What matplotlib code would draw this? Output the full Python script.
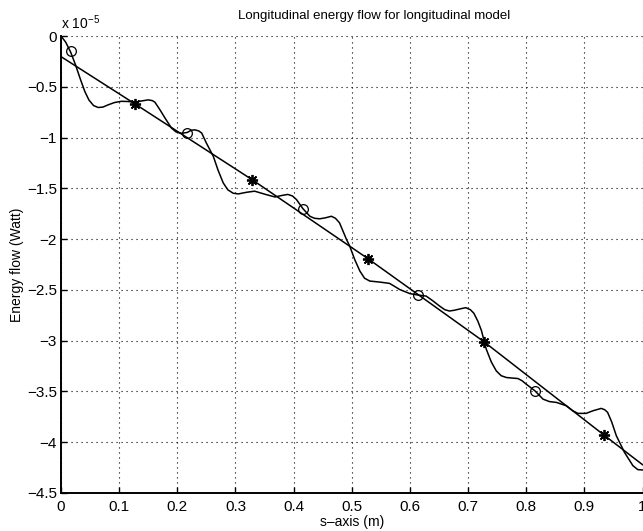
import matplotlib
matplotlib.use("Agg")
import matplotlib.pyplot as plt

plt.rcParams['font.family'] = ['Liberation Sans', 'DejaVu Sans']

# energy flow, units of 1e-5 W
wave_x = [0, 0.008, 0.0167, 0.025, 0.033, 0.041, 0.048, 0.056, 0.064, 0.072,
          0.081, 0.092, 0.104, 0.115, 0.127, 0.138, 0.150, 0.157, 0.1615, 0.170,
          0.179, 0.190, 0.198, 0.207, 0.217, 0.224, 0.230, 0.237, 0.242, 0.250,
          0.262, 0.270, 0.279, 0.287, 0.296, 0.305, 0.319, 0.333, 0.343, 0.353,
          0.368, 0.380, 0.390, 0.398, 0.405, 0.416, 0.428, 0.436, 0.445, 0.455,
          0.465, 0.472, 0.479, 0.491, 0.4966, 0.505, 0.514, 0.522, 0.531, 0.548,
          0.565, 0.575, 0.582, 0.600, 0.6146, 0.628, 0.640, 0.651, 0.660, 0.668,
          0.677, 0.6856, 0.696, 0.704, 0.710, 0.717, 0.723, 0.7314, 0.740, 0.7486,
          0.757, 0.766, 0.7858, 0.793, 0.800, 0.815, 0.829, 0.840, 0.852, 0.869,
          0.880, 0.889, 0.903, 0.915, 0.929, 0.935, 0.940, 0.947, 0.955, 0.969,
          0.9835, 0.992, 1.0]
wave_y = [0, -0.06, -0.16, -0.285, -0.42, -0.547, -0.63, -0.685, -0.704, -0.70,
          -0.678, -0.655, -0.643, -0.645, -0.652, -0.64, -0.629, -0.636, -0.652, -0.725,
          -0.809, -0.907, -0.945, -0.958, -0.950, -0.928, -0.924, -0.935, -0.956, -1.054,
          -1.186, -1.32, -1.447, -1.515, -1.548, -1.555, -1.539, -1.528, -1.545, -1.562,
          -1.585, -1.570, -1.560, -1.575, -1.611, -1.70, -1.775, -1.795, -1.80, -1.79,
          -1.775, -1.795, -1.84, -2.004, -2.07, -2.20, -2.315, -2.385, -2.413, -2.423,
          -2.436, -2.47, -2.495, -2.537, -2.551, -2.561, -2.61, -2.659, -2.695, -2.708,
          -2.70, -2.688, -2.675, -2.695, -2.73, -2.81, -2.90, -3.085, -3.21, -3.298,
          -3.345, -3.363, -3.373, -3.395, -3.428, -3.494, -3.576, -3.60, -3.608, -3.641,
          -3.69, -3.716, -3.716, -3.69, -3.667, -3.68, -3.706, -3.80, -3.936, -4.10,
          -4.231, -4.270, -4.273]

trend_x = [0, 0.127, 0.3287, 0.528, 0.727, 0.933, 1.0]
trend_y = [-0.203, -0.668, -1.415, -2.193, -3.009, -3.926, -4.221]

circ_x = [0.0167, 0.217, 0.416, 0.6146, 0.815]
circ_y = [-0.144, -0.953, -1.70, -2.551, -3.494]

star_x = [0.127, 0.3287, 0.528, 0.727, 0.933]
star_y = [-0.668, -1.415, -2.193, -3.009, -3.926]

xticks = [0, 0.1, 0.2, 0.3, 0.4, 0.5, 0.6, 0.7, 0.8, 0.9, 1]
xticklabels = ['0', '0.1', '0.2', '0.3', '0.4', '0.5', '0.6', '0.7', '0.8', '0.9', '1']
yticks = [0, -0.5, -1, -1.5, -2, -2.5, -3, -3.5, -4, -4.5]
yticklabels = ['0', '\u22120.5', '\u22121', '\u22121.5', '\u22122', '\u22122.5',
               '\u22123', '\u22123.5', '\u22124', '\u22124.5']

fig = plt.figure(figsize=(6.43, 5.31), dpi=100)
ax = fig.add_axes([61/643, 38/531, 581.5/643, 457/531])

ax.plot(wave_x, wave_y, color='black', lw=1.1)
ax.plot(trend_x, trend_y, color='black', lw=1.1)
ax.plot(circ_x, circ_y, ls='none', marker='o', ms=7, mfc='none', mec='black', mew=0.9)
ax.plot(star_x, star_y, ls='none', marker=(8, 2, 0), ms=8, mec='black', mew=1.3)

ax.set_xlim(0, 1)
ax.set_ylim(-4.5, 0)
ax.set_xticks(xticks)
ax.set_xticklabels(xticklabels)
ax.set_yticks(yticks)
ax.set_yticklabels(yticklabels)

ax.grid(True, color='black', ls=(0, (1, 3.5)), lw=0.8)
for s in ['top', 'right']:
    ax.spines[s].set_visible(False)
for s in ['left', 'bottom']:
    ax.spines[s].set_linewidth(1.4)
ax.tick_params(direction='in', length=4, width=1, labelsize=11)
ax.tick_params(axis='x', pad=5)
ax.tick_params(axis='y', pad=3)

ax.set_title('Longitudinal energy flow for longitudinal model', fontsize=9.5, x=0.538, pad=12)
ax.set_xlabel('s\u2013axis (m)', fontsize=10, labelpad=1)
ax.set_ylabel('Energy flow (Watt)', fontsize=10, labelpad=2)
fig.text(61/643, 1 - 29/531, 'x 10$^{\\mathregular{-5}}$', fontsize=10, ha='left', va='baseline')

fig.savefig('out.png', dpi=100)
